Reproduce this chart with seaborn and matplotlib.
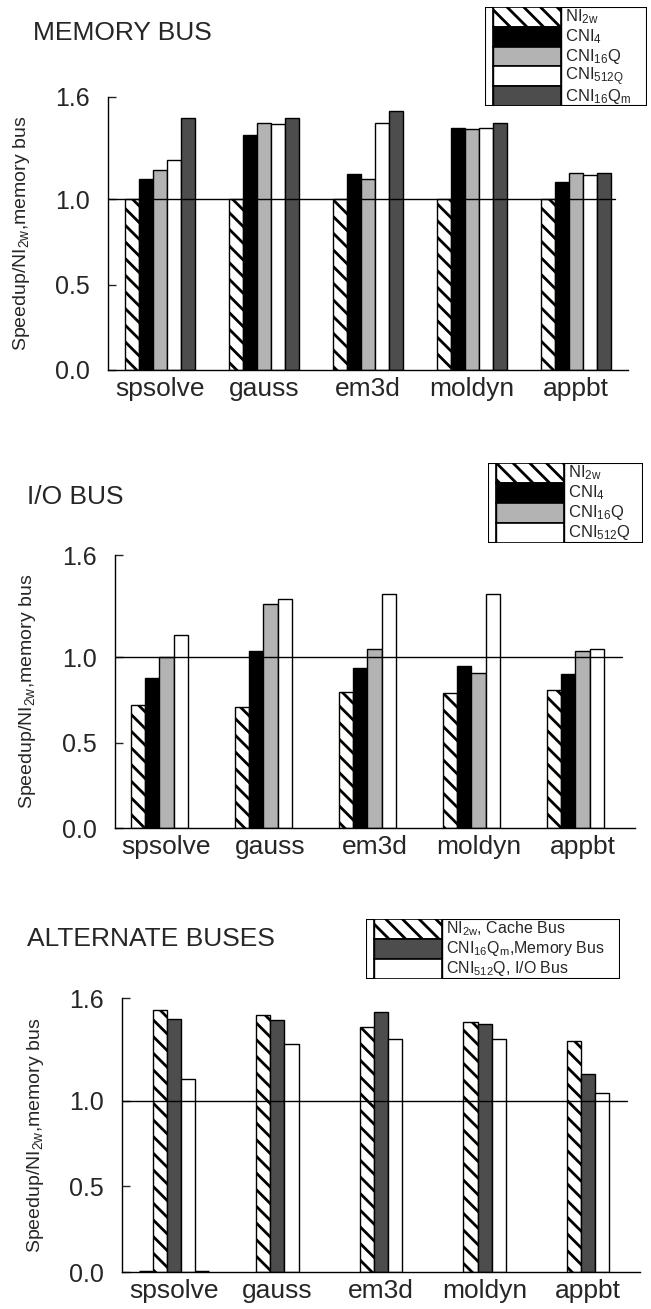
import numpy as np
import pandas as pd
import matplotlib
matplotlib.use("Agg")
import matplotlib.pyplot as plt
import seaborn as sns
from matplotlib.patches import Rectangle
from matplotlib.lines import Line2D

benchmarks = ["spsolve", "gauss", "em3d", "moldyn", "appbt"]

# memory bus panel
mem_ni2w = [1.00, 1.00, 1.00, 1.00, 1.00]
mem_cni4 = [1.12, 1.38, 1.15, 1.42, 1.10]
mem_cni16q = [1.17, 1.45, 1.12, 1.41, 1.155]
mem_cni512q = [1.23, 1.44, 1.45, 1.42, 1.14]
mem_cni16qm = [1.475, 1.475, 1.52, 1.45, 1.155]

# i/o bus panel
io_ni2w = [0.72, 0.71, 0.80, 0.79, 0.81]
io_cni4 = [0.88, 1.04, 0.94, 0.95, 0.90]
io_cni16q = [1.00, 1.31, 1.05, 0.91, 1.04]
io_cni512q = [1.13, 1.34, 1.37, 1.37, 1.05]

# alternate buses panel (outer slots only hold a zero bar for spsolve)
alt_pad = [0.0, None, None, None, None]
alt_ni2w_cache = [1.53, 1.50, 1.43, 1.46, 1.35]
alt_cni16qm_mem = [1.475, 1.47, 1.52, 1.45, 1.155]
alt_cni512q_io = [1.125, 1.33, 1.36, 1.36, 1.045]

yticks = [0.0, 0.5, 1.0, 1.6]
ytick_labels = ["0.0", "0.5", "1.0", "1.6"]
ylabel = "Speedup/NI$_{2w}$,memory bus"

HATCH_WHITE = "#fffffe"
LIGHT = "#b3b3b3"
DARK = "#4d4d4d"

sns.set_style("white")
plt.rcParams["font.family"] = ["Liberation Sans", "DejaVu Sans"]
plt.rcParams["mathtext.default"] = "regular"
plt.rcParams["hatch.linewidth"] = 2.0


def long_df(series):
    rows = []
    for name, vals in series:
        for b, v in zip(benchmarks, vals):
            if v is not None:
                rows.append({"bench": b, "series": name, "value": v})
    return pd.DataFrame(rows)


def draw_panel(ax, df, hue_order, palette):
    sns.barplot(data=df, x="bench", y="value", hue="series", order=benchmarks,
                hue_order=hue_order, palette=palette, width=0.68, dodge=True,
                errorbar=None, saturation=1, edgecolor="black", linewidth=1,
                legend=False, ax=ax)
    for p in ax.patches:
        if matplotlib.colors.to_hex(p.get_facecolor()) == HATCH_WHITE:
            p.set_hatch("\\\\")
        if p.get_height() == 0:
            p.set_linewidth(2.5)
    ax.axhline(1.0, xmin=0, xmax=0.975, color="black", lw=1, zorder=5)
    ax.set_xlim(-0.5, 4.5)
    ax.set_ylim(0, 1.6)
    ax.set_yticks(yticks)
    ax.set_yticklabels(ytick_labels, fontsize=18)
    ax.tick_params(axis="y", length=6, width=1, direction="in", left=True, pad=13)
    ax.tick_params(axis="x", length=0, labelsize=19, pad=5)
    ax.set_xlabel("")
    ax.set_ylabel(ylabel, fontsize=14)
    ax.yaxis.set_label_coords(-0.147, 0.5)
    for s in ["top", "right"]:
        ax.spines[s].set_visible(False)
    for s in ["left", "bottom"]:
        ax.spines[s].set_color("black")
        ax.spines[s].set_linewidth(1)


def draw_legend(fig, rect, entries, fontsize):
    lax = fig.add_axes(rect)
    lax.set_xlim(0, 1)
    lax.set_ylim(0, 1)
    lax.axis("off")
    w_px = rect[2] * 651
    strip = 8 / w_px
    patch_end = strip + 68 / w_px
    n = len(entries)
    lax.add_patch(Rectangle((0, 0), 1, 1, fill=False, edgecolor="black", lw=1.5))
    lax.add_line(Line2D([strip, strip], [0, 1], color="black", lw=1))
    lax.add_line(Line2D([patch_end, patch_end], [0, 1], color="black", lw=1))
    for i, (label, color, hatch) in enumerate(entries):
        y0 = 1 - (i + 1) / n
        lax.add_patch(Rectangle((strip, y0), patch_end - strip, 1 / n, facecolor=color,
                                edgecolor="black", lw=1.2, hatch=hatch))
        lax.text(patch_end + 4 / w_px, y0 + 0.5 / n, label, fontsize=fontsize,
                 va="center", ha="left")


fig = plt.figure(figsize=(6.51, 13.09), dpi=100)

# panel 1: memory bus
ax1 = fig.add_axes([108 / 651, 1 - 370 / 1309, 520 / 651, 273 / 1309])
order1 = ["NI2w", "CNI4", "CNI16Q", "CNI512Q", "CNI16Qm"]
df1 = long_df(list(zip(order1, [mem_ni2w, mem_cni4, mem_cni16q, mem_cni512q, mem_cni16qm])))
draw_panel(ax1, df1, order1, [HATCH_WHITE, "black", LIGHT, "white", DARK])
fig.text(33 / 651, 1 - 33 / 1309, "MEMORY BUS", fontsize=19, va="center")
draw_legend(fig, [485 / 651, 1 - 106 / 1309, 162 / 651, 99 / 1309], [
    ("NI$_{2w}$", "white", "\\\\"),
    ("CNI$_4$", "black", None),
    ("CNI$_{16}$Q", LIGHT, None),
    ("CNI$_{512Q}$", "white", None),
    ("CNI$_{16}$Q$_m$", DARK, None),
], 12)

# panel 2: i/o bus (fifth slot left empty)
ax2 = fig.add_axes([114.5 / 651, 1 - 828 / 1309, 520 / 651, 273 / 1309])
df2 = long_df(list(zip(order1[:4], [io_ni2w, io_cni4, io_cni16q, io_cni512q])))
draw_panel(ax2, df2, order1, [HATCH_WHITE, "black", LIGHT, "white", DARK])
fig.text(27 / 651, 1 - 497 / 1309, "I/O BUS", fontsize=19, va="center")
draw_legend(fig, [488 / 651, 1 - 543 / 1309, 155 / 651, 80 / 1309], [
    ("NI$_{2w}$", "white", "\\\\"),
    ("CNI$_4$", "black", None),
    ("CNI$_{16}$Q", LIGHT, None),
    ("CNI$_{512}$Q", "white", None),
], 12)

# panel 3: alternate buses
ax3 = fig.add_axes([122 / 651, 1 - 1272 / 1309, 518 / 651, 274 / 1309])
order3 = ["padL", "NI2w cache", "CNI16Qm mem", "CNI512Q io", "padR"]
df3 = long_df(list(zip(order3, [alt_pad, alt_ni2w_cache, alt_cni16qm_mem, alt_cni512q_io, alt_pad])))
draw_panel(ax3, df3, order3, ["white", HATCH_WHITE, DARK, "white", "white"])
fig.text(27 / 651, 1 - 939 / 1309, "ALTERNATE BUSES", fontsize=19, va="center")
draw_legend(fig, [366 / 651, 1 - 979 / 1309, 254 / 651, 60 / 1309], [
    ("NI$_{2w}$, Cache Bus", "white", "\\\\"),
    ("CNI$_{16}$Q$_m$,Memory Bus", DARK, None),
    ("CNI$_{512}$Q, I/O Bus", "white", None),
], 11.5)

fig.savefig("out.png", dpi=100)
